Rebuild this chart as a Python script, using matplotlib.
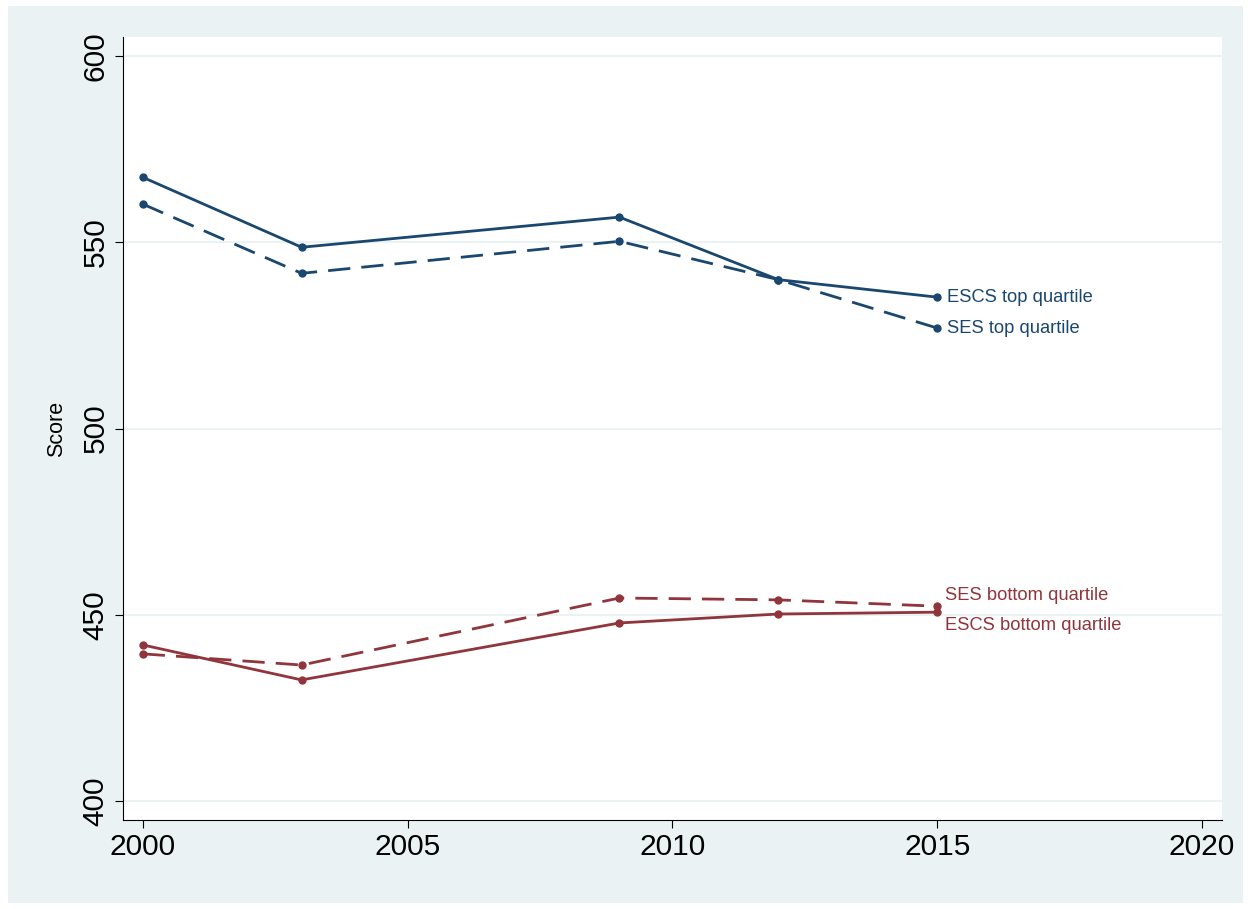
import matplotlib
matplotlib.use("Agg")
import matplotlib.pyplot as plt

plt.rcParams['font.family'] = ['Liberation Sans', 'DejaVu Sans']

years = [2000, 2003, 2009, 2012, 2015]
escs_top = [567.5, 548.7, 556.8, 540.0, 535.3]
ses_top = [560.3, 541.7, 550.3, 540.0, 527.0]
ses_bottom = [439.5, 436.5, 454.5, 454.0, 452.3]
escs_bottom = [441.9, 432.5, 447.8, 450.2, 450.7]

navy = '#1a476f'
maroon = '#90353b'
bg = '#EAF2F3'

fig = plt.figure(figsize=(12.51, 9.09), dpi=100, facecolor='white')
bgax = fig.add_axes([8/1251, 6/909, 1 - 16/1251, 1 - 12/909], zorder=-1)
bgax.axis('off')
bgax.add_patch(plt.Rectangle((0, 0), 1, 1, transform=bgax.transAxes, facecolor=bg, edgecolor='none'))

ax = fig.add_axes([0.098, 0.098, 0.879, 0.861])
ax.set_facecolor('white')
ax.plot(years, escs_top, '-o', color=navy, lw=2, ms=5)
ax.plot(years, ses_top, '--o', color=navy, lw=2, ms=5, dashes=(8, 4))
ax.plot(years, ses_bottom, '--o', color=maroon, lw=2, ms=5, dashes=(8, 4))
ax.plot(years, escs_bottom, '-o', color=maroon, lw=2, ms=5)

ax.text(2015.18, escs_top[-1], 'ESCS top quartile', color=navy, fontsize=13.2, va='center')
ax.text(2015.18, ses_top[-1], 'SES top quartile', color=navy, fontsize=13.2, va='center')
ax.text(2015.15, ses_bottom[-1] + 2.8, 'SES bottom quartile', color=maroon, fontsize=13.2, va='center')
ax.text(2015.15, escs_bottom[-1] - 3.6, 'ESCS bottom quartile', color=maroon, fontsize=13.2, va='center')

ax.set_xlim(1999.62, 2020.38)
ax.set_ylim(394.9, 605.1)
ax.set_xticks([2000, 2005, 2010, 2015, 2020])
ax.set_yticks([400, 450, 500, 550, 600])
ax.tick_params(axis='both', labelsize=21.5, length=6)
for lab in ax.get_yticklabels():
    lab.set_rotation(90)
    lab.set_va('center')
ax.grid(axis='y', color=bg, lw=1.5)
ax.set_axisbelow(True)
ax.set_ylabel('Score', fontsize=15.5, labelpad=10)
ax.spines['top'].set_visible(False)
ax.spines['right'].set_visible(False)
fig.savefig('out.png', dpi=100, facecolor='white')
